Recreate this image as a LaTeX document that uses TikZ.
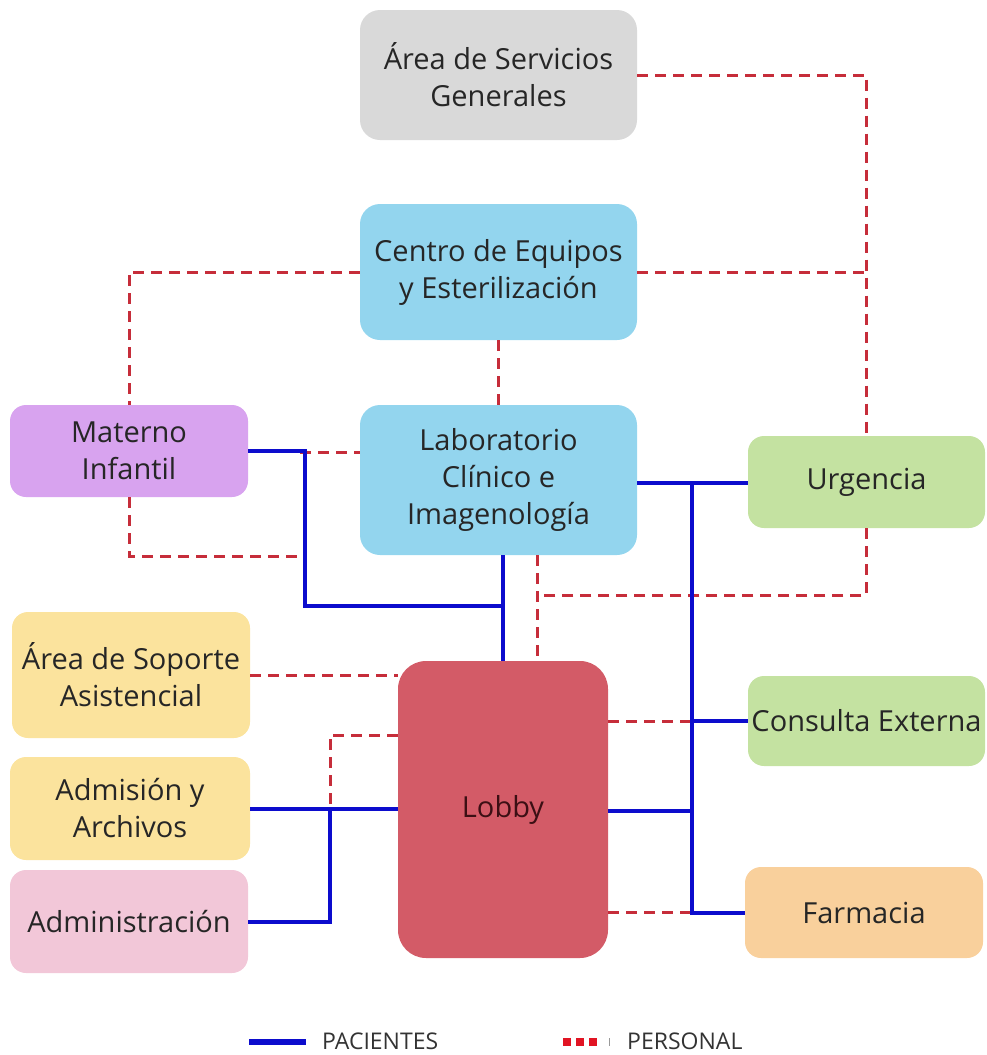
\documentclass[tikz,border=0pt]{standalone}
\usepackage{fontspec}
\setmainfont{Open Sans}
\begin{document}
\begin{tikzpicture}[x=1pt,y=-1pt,
  area/.style={rounded corners=16pt, inner sep=0pt, align=center,
    text=black!85, font=\fontsize{29}{37}\selectfont},
  pac/.style={draw={rgb,255:red,12;green,12;blue,205}, line width=4pt},
  per/.style={draw={rgb,255:red,198;green,45;blue,58}, line width=3pt,
    dash pattern=on 11pt off 7pt},
  legtext/.style={anchor=west, inner sep=0pt, font=\fontsize{23}{26}\selectfont, text=black!80}]
\definecolor{cgris}{HTML}{D9D9D9}
\definecolor{ccel}{HTML}{93D5EE}
\definecolor{cmor}{HTML}{D8A3EF}
\definecolor{cver}{HTML}{C4E2A1}
\definecolor{cama}{HTML}{FBE39D}
\definecolor{crosa}{HTML}{F2C7D8}
\definecolor{crojo}{HTML}{D35B67}
\definecolor{cnar}{HTML}{F9D09C}
\useasboundingbox (0,0) rectangle (987,1055);

% areas
\node[area, fill=cgris, minimum width=277pt, minimum height=130pt, rounded corners=20pt] (sg) at (498.5,75) {Área de Servicios\\Generales};
\node[area, fill=ccel, minimum width=277pt, minimum height=136pt, rounded corners=20pt] (ce) at (498.5,272) {Centro de Equipos\\y Esterilización};
\node[area, fill=cmor, minimum width=238pt, minimum height=92pt] (mat) at (129,451) {Materno\\Infantil};
\node[area, fill=ccel, minimum width=277pt, minimum height=150pt, rounded corners=20pt] (lab) at (498.5,480) {Laboratorio\\Clínico e\\Imagenología};
\node[area, fill=cver, minimum width=237pt, minimum height=92pt] (urg) at (866.5,482) {Urgencia};
\node[area, fill=cama, minimum width=238pt, minimum height=126pt] (sop) at (131,675) {\raisebox{7pt}{\parbox{238pt}{\centering Área de Soporte\\Asistencial}}};
\node[area, fill=cama, minimum width=240pt, minimum height=103pt] (adm) at (130,808.5) {Admisión y\\Archivos};
\node[area, fill=crosa, minimum width=238pt, minimum height=103pt] (admin) at (129,921.5) {Administración};
\node[area, fill=crojo, minimum width=210pt, minimum height=297pt, rounded corners=28pt, text={rgb,255:red,60;green,15;blue,20}] (lob) at (503,809.5) {Lobby};
\node[area, fill=cver, minimum width=237pt, minimum height=90pt] (con) at (866.5,721) {Consulta Externa};
\node[area, fill=cnar, minimum width=238pt, minimum height=91pt] (far) at (864,912.5) {Farmacia};

% junction points
\coordinate (tr) at (692,483);
\coordinate (jm) at (305,606);
\coordinate (ja) at (330,808.5);
\coordinate (pm) at (300,452);
\coordinate (pl) at (537,595);

% personal routes
\draw[per] (sg.east) -| (urg.north);
\draw[per] (ce.east) -- (ce.east -| urg.north);
\draw[per] (ce.west) -| (mat.north);
\draw[per] (ce.south) -- (lab.north);
\draw[per] (pm) -- (lab.west |- pm);
\draw[per] (mat.south) |- ([xshift=-5pt]jm |- 0,556);
\draw[per] (urg.south) |- (pl);
\draw[per] (lab.south -| pl) -- (lob.north -| pl);
\draw[per] (sop.east) -- (lob.west |- sop.east);
\draw[per] (lob.west |- 0,735) -| (ja);
\draw[per] (lob.east |- con.west) -- (tr |- con.west);
\draw[per] (lob.east |- far.west) -- (tr |- far.west);

% patient routes
\draw[pac] (mat.east) -| (jm) -- (jm -| lob.north);
\draw[pac] (lab.south -| lob.north) -- (lob.north);
\draw[pac] (lab.east |- tr) -- (urg.west |- tr);
\draw[pac] (tr) -- (tr |- far.west) -- (far.west);
\draw[pac] (con.west) -- (tr |- con.west);
\draw[pac] (lob.east |- 0,811) -- (tr |- 0,811);
\draw[pac] (adm.east) -- (lob.west |- adm.east);
\draw[pac] (admin.east) -| (ja);

% legend
\coordinate (lp) at (249,1042);
\coordinate (lq) at (563,1042);
\draw[pac, line width=6pt] (lp) -- (306,1042) coordinate (lp2);
\node[legtext] (lpt) at (322,1041) {PACIENTES};
\draw[draw={rgb,255:red,225;green,20;blue,35}, line width=8pt, dash pattern=on 8pt off 5pt] (lq) -- (597,1042) coordinate (lq2);
\draw[draw=black!40, line width=0.8pt] (609,1038) -- (609,1046);
\node[legtext] (lqt) at (627,1041) {PERSONAL};
\end{tikzpicture}
\end{document}
